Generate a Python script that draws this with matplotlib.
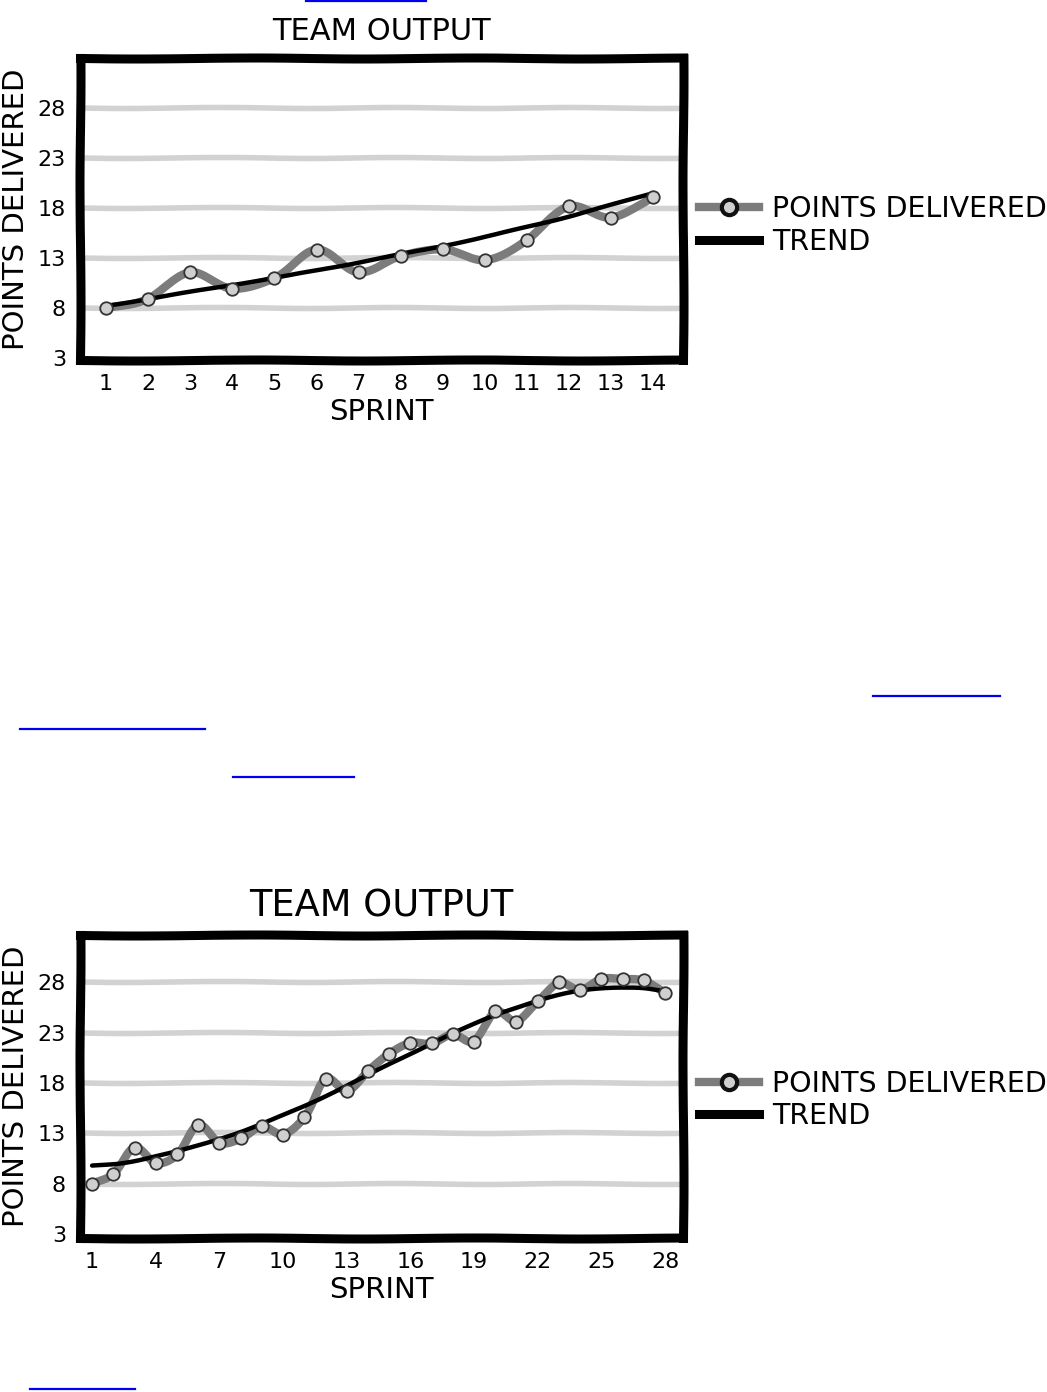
import numpy as np
import matplotlib
matplotlib.use("Agg")
import matplotlib.pyplot as plt
from matplotlib.lines import Line2D

plt.rcParams['font.family'] = ['DejaVu Sans']

# ---- data ----
sprints_a = list(range(1, 15))
points_a = [8.0, 8.9, 11.6, 9.9, 11.0, 13.8, 11.6, 13.15, 13.9, 12.75, 14.8, 18.2, 17.0, 19.1]
trend_a = [8.2, 8.9, 9.6, 10.3, 11.0, 11.75, 12.55, 13.35, 14.2, 15.1, 16.1, 17.15, 18.3, 19.5]
xticks_a = list(range(1, 15))

sprints_b = list(range(1, 29))
points_b = [8.0, 9.0, 11.55, 10.05, 10.9, 13.8, 12.05, 12.5, 13.7, 12.85, 14.6, 18.35, 17.2, 19.2,
            20.85, 22.0, 21.95, 22.85, 22.1, 25.15, 24.1, 26.1, 28.0, 27.2, 28.3, 28.35, 28.2, 26.9]
trend_b = [9.8, 9.95, 10.25, 10.7, 11.2, 11.8, 12.45, 13.15, 13.95, 14.8, 15.7, 16.7, 17.75, 18.8,
           19.85, 20.9, 21.95, 22.95, 23.85, 24.75, 25.5, 26.2, 26.75, 27.15, 27.4, 27.5, 27.45, 27.1]
xticks_b = list(range(1, 29, 3))

yticks = [3, 8, 13, 18, 23, 28]
grid_vals = [8, 13, 18, 23, 28]

title_text = "TEAM OUTPUT"
xlabel_text = "SPRINT"
ylabel_text = "POINTS DELIVERED"
legend_labels = ["POINTS DELIVERED", "TREND"]

LINE_GREY = "#7c7c7c"
MARK_FILL = "#cfcfcf"
GRID_GREY = "#d2d2d2"


def catmull_rom(x, y, n=24):
    x = np.asarray(x, float)
    y = np.asarray(y, float)
    px = np.concatenate([[2 * x[0] - x[1]], x, [2 * x[-1] - x[-2]]])
    py = np.concatenate([[2 * y[0] - y[1]], y, [2 * y[-1] - y[-2]]])
    xs, ys = [], []
    t = np.linspace(0, 1, n, endpoint=False)
    for i in range(1, len(px) - 2):
        for p, out in ((px, xs), (py, ys)):
            p0, p1, p2, p3 = p[i - 1], p[i], p[i + 1], p[i + 2]
            out.append(0.5 * ((2 * p1) + (-p0 + p2) * t + (2 * p0 - 5 * p1 + 4 * p2 - p3) * t ** 2
                              + (-p0 + 3 * p1 - 3 * p2 + p3) * t ** 3))
    xs.append([x[-1]])
    ys.append([y[-1]])
    return np.concatenate(xs), np.concatenate(ys)


fig = plt.figure(figsize=(10.47, 13.92), dpi=100)
fig.patch.set_facecolor("white")


def draw_chart(rect, xs, ys, trend, xticks, xlim, ylim, title_size, legend_y):
    ax = fig.add_axes(rect)
    ax.set_xlim(*xlim)
    ax.set_ylim(*ylim)
    for g in grid_vals:
        gl = ax.axhline(g, color=GRID_GREY, lw=4, zorder=1)
        gl.set_sketch_params(0.5, 200, 2)
    sx, sy = catmull_rom(xs, ys)
    l1, = ax.plot(sx, sy, color=LINE_GREY, lw=6, solid_capstyle="round", zorder=2)
    l1.set_sketch_params(0.4, 80, 2)
    ax.plot(xs, ys, linestyle="none", marker="o", ms=9, mfc=MARK_FILL, mec="#333333",
            mew=1.3, zorder=4)
    tx, ty = catmull_rom(xs, trend)
    l2, = ax.plot(tx, ty, color="black", lw=3.2, zorder=3, solid_capstyle="round")
    l2.set_sketch_params(0.3, 120, 2)
    for s in ax.spines.values():
        s.set_linewidth(6.5)
        s.set_color("black")
        s.set_sketch_params(0.5, 250, 2)
    ax.set_xticks(xticks)
    ax.set_xticklabels([str(v) for v in xticks])
    ax.set_yticks(yticks)
    ax.set_yticklabels([str(v) for v in yticks])
    ax.tick_params(length=0, labelsize=16, pad=10)
    ax.set_title(title_text, fontsize=title_size, pad=13)
    ax.set_xlabel(xlabel_text, fontsize=21, labelpad=3)
    ax.set_ylabel(ylabel_text, fontsize=21, labelpad=6)
    h1 = Line2D([], [], color=LINE_GREY, lw=6, marker="o", ms=11, mfc=MARK_FILL,
                mec="#111111", mew=3)
    h2 = Line2D([], [], color="black", lw=6.5)
    fig.legend([h1, h2], legend_labels, loc="center left",
               bbox_to_anchor=(0.668, legend_y), frameon=False, fontsize=20.5,
               handlelength=2.1, handletextpad=0.45, labelspacing=0.15, numpoints=1,
               borderaxespad=0, borderpad=0)
    return ax


draw_chart([0.0764, 0.7414, 0.576, 0.217], sprints_a, points_a, trend_a, xticks_a,
           (0.38, 14.71), (2.8, 33.0), 22, 0.838)
draw_chart([0.0764, 0.1106, 0.576, 0.2177], sprints_b, points_b, trend_b, xticks_b,
           (0.43, 28.85), (2.6, 32.7), 26.5, 0.210)

# page link underlines
link_segments = [((306, 426), 1), ((873, 1000), 696), ((20, 205), 729),
                 ((233, 354), 777), ((30, 135), 1389)]
W, H = 1047, 1392
for (x0, x1), yy in link_segments:
    fig.add_artist(Line2D([x0 / W, x1 / W], [1 - yy / H, 1 - yy / H],
                          transform=fig.transFigure, color="#0000EE", lw=1.6))

fig.savefig("out.png", dpi=100, facecolor="white")
